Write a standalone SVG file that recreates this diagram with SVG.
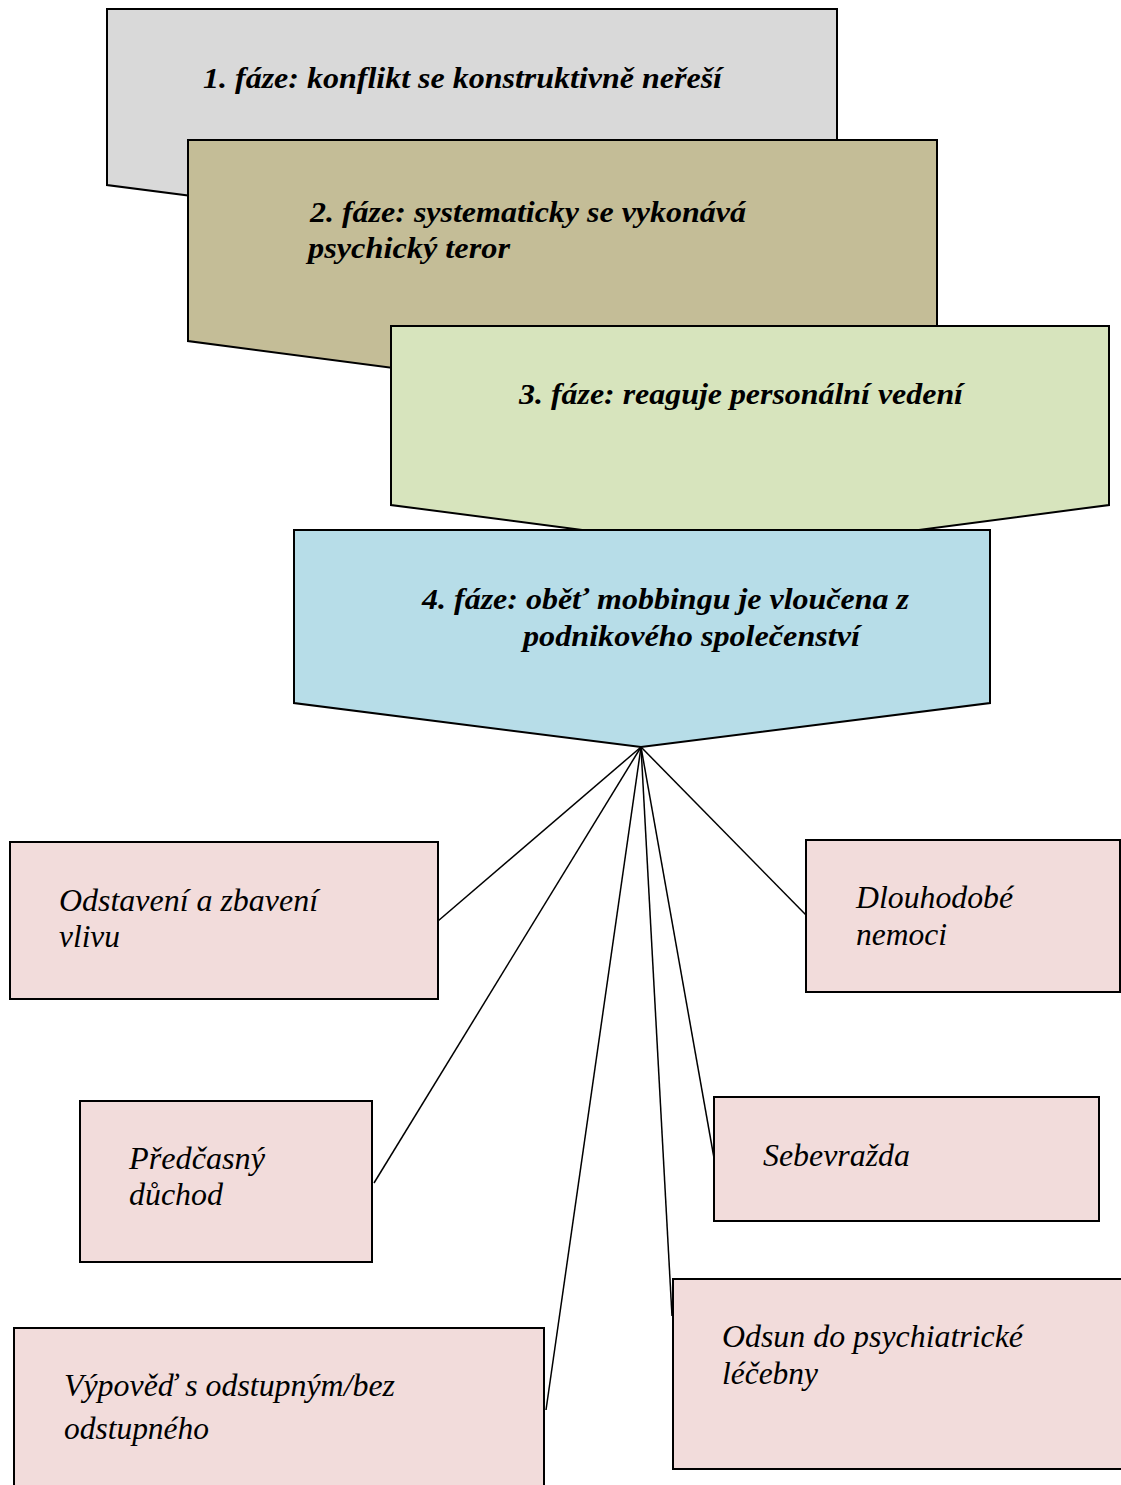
<svg xmlns="http://www.w3.org/2000/svg" width="1121" height="1485" viewBox="0 0 1121 1485">
<style>
.ph{stroke:#000;stroke-width:2;stroke-linejoin:miter}
.bx{fill:#F2DCDB;stroke:#000;stroke-width:2}
.tp{font-family:"Liberation Serif","Times New Roman",serif;font-style:italic;font-weight:bold;font-size:29px;fill:#000}
.tb{font-family:"Liberation Serif","Times New Roman",serif;font-style:italic;font-size:31px;fill:#000}
.cn{stroke:#000;stroke-width:1.5;fill:none}
</style>
<rect width="1121" height="1485" fill="#fff"/>
<g id="phase1">
<polygon class="ph" fill="#D9D9D9" points="107,9 837,9 837,185 472,232 107,185"/>
<text class="tp" x="203" y="88" textLength="519" lengthAdjust="spacingAndGlyphs">1. fáze: konflikt se konstruktivně neřeší</text>
</g>
<g id="phase2">
<polygon class="ph" fill="#C4BD97" points="188,140 937,140 937,341 562,390 188,341"/>
<text class="tp" x="310" y="222" textLength="436" lengthAdjust="spacingAndGlyphs">2. fáze: systematicky se vykonává</text>
<text class="tp" x="308" y="258" textLength="202" lengthAdjust="spacingAndGlyphs">psychický teror</text>
</g>
<g id="phase3">
<polygon class="ph" fill="#D7E4BD" points="391,326 1109,326 1109,505 750,552 391,505"/>
<text class="tp" x="519" y="404" textLength="444" lengthAdjust="spacingAndGlyphs">3. fáze: reaguje personální vedení</text>
</g>
<g id="phase4">
<polygon class="ph" fill="#B7DDE8" points="294,530 990,530 990,703 641,747 294,703"/>
<text class="tp" x="422" y="609" textLength="487" lengthAdjust="spacingAndGlyphs">4. fáze: oběť mobbingu je vloučena z</text>
<text class="tp" x="523" y="646" textLength="337" lengthAdjust="spacingAndGlyphs">podnikového společenství</text>
</g>
<g id="connectors">
<line class="cn" x1="641" y1="747" x2="438" y2="921"/>
<line class="cn" x1="641" y1="747" x2="374" y2="1183"/>
<line class="cn" x1="641" y1="747" x2="546" y2="1410"/>
<line class="cn" x1="641" y1="747" x2="672" y2="1316"/>
<line class="cn" x1="641" y1="747" x2="714" y2="1158"/>
<line class="cn" x1="641" y1="747" x2="806" y2="915"/>
</g>
<g id="odstaveni">
<rect class="bx" x="10" y="842" width="428" height="157"/>
<text class="tb" x="59" y="911" textLength="259" lengthAdjust="spacingAndGlyphs">Odstavení a zbavení</text>
<text class="tb" x="59" y="947" textLength="61" lengthAdjust="spacingAndGlyphs">vlivu</text>
</g>
<g id="dlouhodobe">
<rect class="bx" x="806" y="840" width="314" height="152"/>
<text class="tb" x="856" y="908" textLength="157" lengthAdjust="spacingAndGlyphs">Dlouhodobé</text>
<text class="tb" x="856" y="945" textLength="91" lengthAdjust="spacingAndGlyphs">nemoci</text>
</g>
<g id="predcasny">
<rect class="bx" x="80" y="1101" width="292" height="161"/>
<text class="tb" x="129" y="1169" textLength="136" lengthAdjust="spacingAndGlyphs">Předčasný</text>
<text class="tb" x="129" y="1205" textLength="94" lengthAdjust="spacingAndGlyphs">důchod</text>
</g>
<g id="sebevrazda">
<rect class="bx" x="714" y="1097" width="385" height="124"/>
<text class="tb" x="763" y="1166" textLength="147" lengthAdjust="spacingAndGlyphs">Sebevražda</text>
</g>
<g id="vypoved">
<rect class="bx" x="14" y="1328" width="530" height="160"/>
<text class="tb" x="64" y="1396" textLength="331" lengthAdjust="spacingAndGlyphs">Výpověď s odstupným/bez</text>
<text class="tb" x="64" y="1439" textLength="145" lengthAdjust="spacingAndGlyphs">odstupného</text>
</g>
<g id="odsun">
<rect class="bx" x="673" y="1279" width="450" height="190"/>
<text class="tb" x="722" y="1347" textLength="301" lengthAdjust="spacingAndGlyphs">Odsun do psychiatrické</text>
<text class="tb" x="722" y="1384" textLength="96" lengthAdjust="spacingAndGlyphs">léčebny</text>
</g>
</svg>
